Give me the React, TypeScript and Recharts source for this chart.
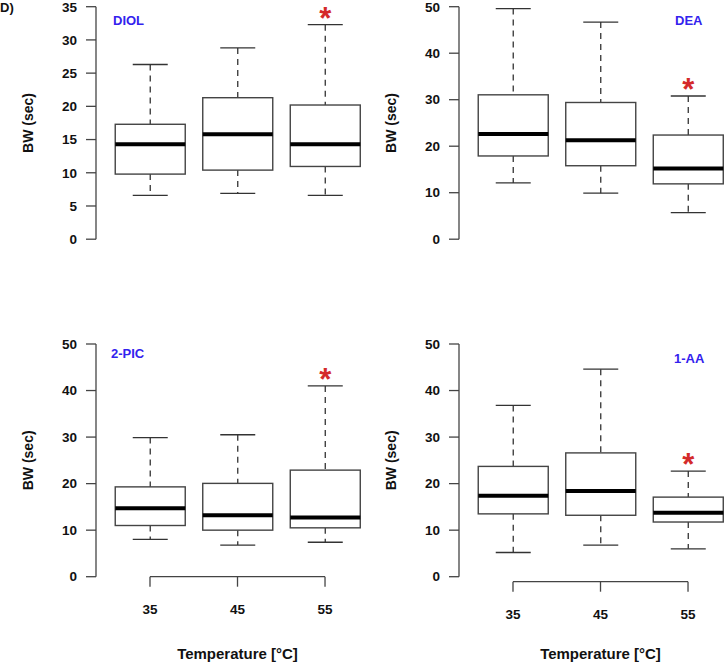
import React from "react";
import { Bar, ComposedChart, ReferenceLine, XAxis, YAxis } from "recharts";

const temps = ["35", "45", "55"];
const significant = [false, false, true];

// per temperature: [lower whisker, Q1, median, Q3, upper whisker]
const diol = [
  [6.6, 9.8, 14.3, 17.3, 26.3],
  [6.9, 10.4, 15.8, 21.3, 28.8],
  [6.6, 10.95, 14.3, 20.2, 32.3],
];
const dea = [
  [12.1, 17.9, 22.6, 31.05, 49.6],
  [9.9, 15.8, 21.3, 29.4, 46.7],
  [5.7, 11.9, 15.2, 22.4, 30.8],
];
const pic = [
  [8.0, 11.0, 14.7, 19.3, 29.9],
  [6.8, 10.0, 13.2, 20.05, 30.5],
  [7.4, 10.5, 12.7, 22.9, 41.0],
];
const aa = [
  [5.2, 13.5, 17.4, 23.7, 36.8],
  [6.8, 13.2, 18.4, 26.6, 44.6],
  [6.0, 11.75, 13.75, 17.1, 22.7],
];

const ticks35 = [0, 5, 10, 15, 20, 25, 30, 35];
const ticks50 = [0, 10, 20, 30, 40, 50];

const FONT = '"Liberation Sans", Arial, Helvetica, sans-serif';
const AXIS = "#444";

const toRows = (stats: number[][]) =>
  stats.map((s, i) => ({
    pos: i + 1,
    range: [s[0], s[4]],
    low: s[0],
    q1: s[1],
    median: s[2],
    q3: s[3],
    high: s[4],
    sig: significant[i],
  }));

const BoxShape = (props: any) => {
  const { x, y, width, height, payload } = props;
  const { low, q1, median, q3, high, sig } = payload;
  const k = height / (high - low);
  const py = (v: number) => y + (high - v) * k;
  const cx = x + width / 2;
  const cap = width / 4;
  return (
    <g>
      <line x1={cx} x2={cx} y1={py(high)} y2={py(q3)} stroke="#333" strokeWidth={1.3} strokeDasharray="6 5" />
      <line x1={cx} x2={cx} y1={py(q1)} y2={py(low)} stroke="#333" strokeWidth={1.3} strokeDasharray="6 5" />
      <line x1={cx - cap} x2={cx + cap} y1={py(high)} y2={py(high)} stroke="#333" strokeWidth={1.3} />
      <line x1={cx - cap} x2={cx + cap} y1={py(low)} y2={py(low)} stroke="#333" strokeWidth={1.3} />
      <rect x={x} y={py(q3)} width={width} height={py(q1) - py(q3)} fill="#fff" stroke="#444" strokeWidth={1.4} />
      <line x1={x} x2={x + width} y1={py(median)} y2={py(median)} stroke="#000" strokeWidth={4} />
      {sig && (
        <text x={cx} y={py(high) + 4} textAnchor="middle" fill="#d42a2a" fontSize={31} fontWeight={700} fontFamily={FONT}>
          *
        </text>
      )}
    </g>
  );
};

interface PanelProps {
  name: string;
  stats: number[][];
  ticks: number[];
  left: number;
  top: number;
  height: number;
  marginTop: number;
  plotBottom: number;
  nameX: number;
  nameY: number;
  showX?: boolean;
  xShift?: number;
  tag?: string;
}

const Panel = ({ name, stats, ticks, left, top, height, marginTop, plotBottom, nameX, nameY, showX, xShift = 0, tag }: PanelProps) => {
  const data = toRows(stats);
  const yMax = ticks[ticks.length - 1];
  const bottom = height - plotBottom;
  return (
    <div style={{ position: "absolute", left, top }}>
      <ComposedChart
        width={363}
        height={height}
        data={data}
        margin={{ top: marginTop, right: 0, bottom: showX ? 0 : bottom, left: 0 }}
      >
        <XAxis
          type="number"
          dataKey="pos"
          domain={[0.383, 3.434]}
          ticks={[1, 2, 3]}
          hide={!showX}
          height={bottom}
          axisLine={false}
          tickLine={false}
          tickSize={0}
          tickMargin={0}
          interval={0}
          tick={(p: any) => (
            <g>
              <line x1={p.x} x2={p.x} y1={p.y + xShift} y2={p.y + xShift + 10} stroke={AXIS} strokeWidth={1.3} />
              <text x={p.x} y={p.y + xShift + 37} textAnchor="middle" fontSize={13.5} fontWeight={700} fontFamily={FONT} fill="#111">
                {temps[p.payload.value - 1]}
              </text>
            </g>
          )}
        />
        <YAxis
          type="number"
          domain={[0, yMax]}
          ticks={ticks}
          interval={0}
          width={96}
          tickSize={10}
          tickMargin={9}
          axisLine={{ stroke: AXIS, strokeWidth: 1.3 }}
          tickLine={{ stroke: AXIS, strokeWidth: 1.3 }}
          tick={{ fill: "#111", fontSize: 13.5, fontWeight: 700, fontFamily: FONT }}
        />
        <Bar dataKey="range" barSize={70} shape={BoxShape} isAnimationActive={false} />
        {showX && (
          <ReferenceLine
            segment={[
              { x: 1, y: 0 },
              { x: 3, y: 0 },
            ]}
            shape={(p: any) => (
              <line x1={p.x1} x2={p.x2} y1={p.y1 + xShift} y2={p.y2 + xShift} stroke={AXIS} strokeWidth={1.3} />
            )}
          />
        )}
        <text
          x={28}
          y={(marginTop + plotBottom) / 2}
          transform={`rotate(-90, 28, ${(marginTop + plotBottom) / 2})`}
          textAnchor="middle"
          dominantBaseline="central"
          fontSize={14}
          fontWeight={700}
          fontFamily={FONT}
          fill="#111"
        >
          BW (sec)
        </text>
        <text x={nameX} y={nameY} fontSize={13} fontWeight={700} fontFamily={FONT} fill="#3322ee">
          {name}
        </text>
        {showX && (
          <text x={237.5} y={328.5} textAnchor="middle" fontSize={15} fontWeight={700} fontFamily={FONT} fill="#111">
            Temperature [°C]
          </text>
        )}
        {tag && (
          <text x={0} y={12} fontSize={13} fontWeight={700} fontFamily={FONT} fill="#111">
            {tag}
          </text>
        )}
      </ComposedChart>
    </div>
  );
};

export default function App() {
  return (
    <div style={{ position: "absolute", left: 0, top: 0, width: 726, height: 664, background: "#fff" }}>
      <Panel name="DIOL" tag="D)" stats={diol} ticks={ticks35} left={0} top={0} height={250} marginTop={6.7} plotBottom={239.2} nameX={113} nameY={24.5} />
      <Panel name="DEA" stats={dea} ticks={ticks50} left={363} top={0} height={250} marginTop={6.7} plotBottom={239.2} nameX={312} nameY={24.5} />
      <Panel name="2-PIC" stats={pic} ticks={ticks50} left={0} top={330} height={334} marginTop={14} plotBottom={246.7} nameX={111} nameY={27.5} showX />
      <Panel name="1-AA" stats={aa} ticks={ticks50} left={363} top={330} height={334} marginTop={14} plotBottom={246.7} nameX={311} nameY={32.5} showX xShift={5} />
    </div>
  );
}
